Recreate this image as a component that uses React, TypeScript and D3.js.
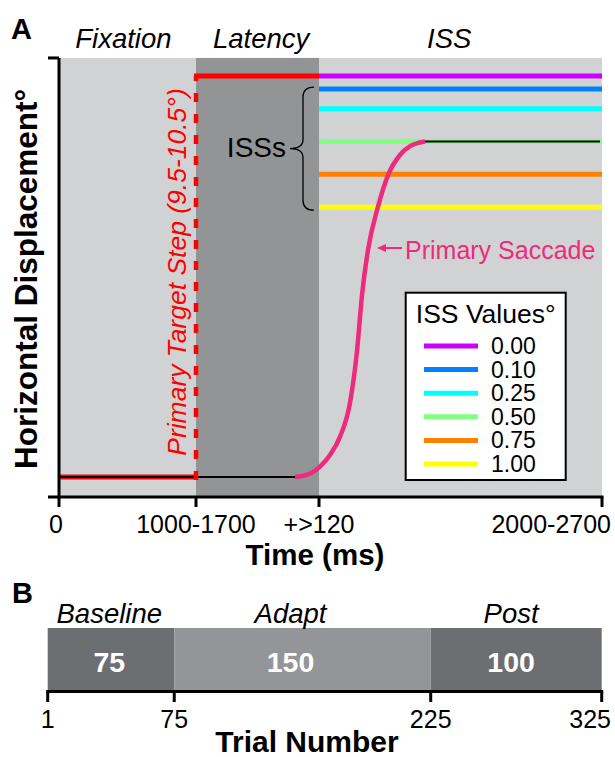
import React from 'react';
import * as d3 from 'd3';

// ---------- Panel A data ----------
const phaseNames = ['Fixation', 'Latency', 'ISS'];
const phaseStart = [0, 1, 2];
const phaseEnd = [1, 2, 3];
const phaseLabelAt = [0.47, 1.53, 2.46];
const phaseFill = ['#d1d2d4', '#939496', '#d1d2d4'];

const timeTicks = [0, 1, 2, 3];
const timeTickLabels = ['0', '1000-1700', '+>120', '2000-2700'];

const issValues = [0, 0.1, 0.25, 0.5, 0.75, 1.0];
const issLabels = ['0.00', '0.10', '0.25', '0.50', '0.75', '1.00'];
const issColors = ['#cc00ff', '#0080ff', '#00ffff', '#80ff80', '#ff8000', '#ffff00'];

const targetStep = 10; // degrees (schematic)
const issGain = 3.27; // schematic exaggeration of ISS
const adaptedIss = 0.5; // ISS of the illustrated trial

// primary saccade trace: phase-time and displacement (deg)
const saccadeT = [1.805, 1.886, 1.943, 2.0035, 2.039, 2.074, 2.11, 2.134, 2.152, 2.173, 2.208, 2.244, 2.286, 2.322, 2.35, 2.375];
const saccadeD = [0, 0.04, 0.11, 0.26, 0.55, 1.0, 1.87, 3.12, 4.54, 5.66, 6.73, 7.53, 8.03, 8.25, 8.33, 8.365];

// ---------- Panel B data ----------
const blockNames = ['Baseline', 'Adapt', 'Post'];
const blockStart = [1, 75, 225];
const blockEnd = [75, 225, 325];
const blockCounts = [75, 150, 100];
const blockLabelAt = [37, 143, 272];
const blockFill = ['#6d6e71', '#939598', '#6d6e71'];
const trialTicks = [1, 75, 225, 325];

const FONT = 'Liberation Sans, Arial, Helvetica, sans-serif';

export default function App() {
  const xA = d3.scaleLinear().domain([0, 1, 2, 3]).range([59, 196, 319, 602]);
  const yA = d3.scaleLinear().domain([0, 10]).range([477, 76]);
  const yMin = -0.5;
  const yMax = 10.45;
  const issD = (v: number) => targetStep - v * issGain;

  const xB = d3.scaleLinear().domain([1, 325]).range([47.7, 601.7]);
  const barTop = 628;
  const barBottom = 690;
  const axisB = 691.5;

  const line = d3
    .line<[number, number]>()
    .x((d) => xA(d[0]))
    .y((d) => yA(d[1]))
    .curve(d3.curveMonotoneX);
  const saccadePath = line(saccadeT.map((t, i) => [t, saccadeD[i]]) as [number, number][]) || '';

  const axisY = yA(yMin);
  const topY = yA(yMax);

  // curly brace for ISSs
  const bx = 314, bs = 303, btip = 290;
  const by0 = yA(issD(0.1)) - 2;
  const by1 = yA(issD(1.0)) + 3;
  const bym = (by0 + by1) / 2;
  const brace = `M${bx},${by0} Q${bs},${by0} ${bs},${by0 + 10} L${bs},${bym - 9} Q${bs},${bym} ${btip},${bym} Q${bs},${bym} ${bs},${bym + 9} L${bs},${by1 - 10} Q${bs},${by1} ${bx},${by1}`;

  const legendX = 405.7, legendY = 292.7, legendW = 160, legendH = 187.3;
  const nTicks = timeTicks.length;
  const nTrialTicks = trialTicks.length;

  return (
    <svg width={615} height={757} style={{ position: 'absolute', left: 0, top: 0, fontFamily: FONT }}>
      <rect x={0} y={0} width={615} height={757} fill="#ffffff" />
      {/* Panel A label */}
      <text x={11} y={39} fontSize={29} fontWeight="bold">A</text>

      {/* phase backgrounds */}
      {phaseNames.map((p, i) => (
        <rect key={p} x={xA(phaseStart[i])} y={topY} width={xA(phaseEnd[i]) - xA(phaseStart[i])} height={axisY - topY} fill={phaseFill[i]} />
      ))}
      {phaseNames.map((p, i) => (
        <text key={p + 'l'} x={xA(phaseLabelAt[i])} y={48} fontSize={27.5} fontStyle="italic" textAnchor="middle">{p}</text>
      ))}

      {/* baseline fixation: red target under black eye trace */}
      <line x1={xA(0)} x2={xA(1) + 2} y1={yA(0)} y2={yA(0)} stroke="#ff0000" strokeWidth={5} />
      <line x1={xA(0)} x2={xA(saccadeT[0])} y1={yA(0)} y2={yA(0)} stroke="#000" strokeWidth={2} />

      {/* target step */}
      <line x1={xA(1)} x2={xA(1)} y1={yA(0) + 3} y2={yA(targetStep)} stroke="#ff0000" strokeWidth={4.5} strokeDasharray="9,12" />
      <line x1={xA(1) - 2} x2={xA(2)} y1={yA(targetStep)} y2={yA(targetStep)} stroke="#ff0000" strokeWidth={5} />

      {/* ISS lines */}
      {issValues.map((v, i) => (
        <line key={v} x1={xA(2)} x2={xA(3)} y1={yA(issD(v))} y2={yA(issD(v))} stroke={issColors[i]} strokeWidth={5} />
      ))}

      {/* post-saccadic eye position */}
      <line x1={xA(saccadeT[saccadeT.length - 1])} x2={xA(3) - 2} y1={yA(issD(adaptedIss))} y2={yA(issD(adaptedIss))} stroke="#000" strokeWidth={2} />

      {/* primary saccade */}
      <path d={saccadePath} fill="none" stroke="#ee2a7b" strokeWidth={4.5} strokeLinecap="butt" />

      {/* ISSs brace */}
      <path d={brace} fill="none" stroke="#000" strokeWidth={1.3} />
      <text x={286} y={157} fontSize={28} textAnchor="end">ISSs</text>

      {/* target step label */}
      <text transform={`translate(186,272) rotate(-90)`} fontSize={26.5} fontStyle="italic" fill="#ff0000" textAnchor="middle">Primary Target Step (9.5-10.5°)</text>

      {/* primary saccade label */}
      <line x1={384} x2={402} y1={248} y2={248} stroke="#ee2a7b" strokeWidth={2} />
      <path d="M377,248 L386,244 L386,252 Z" fill="#ee2a7b" />
      <text x={405} y={259} fontSize={25} fill="#ee2a7b">Primary Saccade</text>

      {/* legend */}
      <rect x={legendX} y={legendY} width={legendW} height={legendH} fill="#fff" stroke="#000" strokeWidth={2} />
      <text x={legendX + legendW / 2} y={323} fontSize={26.5} textAnchor="middle">ISS Values°</text>
      {issValues.map((v, i) => (
        <g key={'lg' + v}>
          <line x1={424} x2={478} y1={346 + i * 23.6} y2={346 + i * 23.6} stroke={issColors[i]} strokeWidth={5} />
          <text x={491} y={346 + i * 23.6 + 8} fontSize={23}>{issLabels[i]}</text>
        </g>
      ))}

      {/* axes A */}
      <line x1={xA(0)} x2={xA(0)} y1={topY} y2={axisY + 1.5} stroke="#000" strokeWidth={3} />
      <line x1={48} x2={xA(0)} y1={topY} y2={topY} stroke="#000" strokeWidth={3} />
      <line x1={48} x2={xA(3) + 1.5} y1={axisY} y2={axisY} stroke="#000" strokeWidth={3} />
      {timeTicks.map((t, i) => (
        <g key={'tt' + t}>
          <line x1={xA(t)} x2={xA(t)} y1={axisY} y2={507} stroke="#000" strokeWidth={3} />
          <text x={i === nTicks - 1 ? xA(t) + 9 : xA(t) - (i === 0 ? 3 : 0)} y={533} fontSize={25} textAnchor={i === nTicks - 1 ? 'end' : 'middle'}>{timeTickLabels[i]}</text>
        </g>
      ))}
      <text x={315} y={565} fontSize={29.5} fontWeight="bold" textAnchor="middle">Time (ms)</text>
      <text transform={`translate(37,279) rotate(-90)`} fontSize={31.5} fontWeight="bold" textAnchor="middle">Horizontal Displacement°</text>

      {/* Panel B */}
      <text x={12} y={603} fontSize={29} fontWeight="bold">B</text>
      {blockNames.map((b, i) => (
        <g key={b}>
          <rect x={xB(blockStart[i])} y={barTop} width={xB(blockEnd[i]) - xB(blockStart[i])} height={barBottom - barTop} fill={blockFill[i]} />
          <text x={xB(blockLabelAt[i])} y={623} fontSize={27.5} fontStyle="italic" textAnchor="middle">{b}</text>
          <text x={xB(blockLabelAt[i])} y={672} fontSize={28.5} fontWeight="bold" fill="#fff" textAnchor="middle">{blockCounts[i]}</text>
        </g>
      ))}
      <line x1={xB(1) - 1.5} x2={xB(325) + 1.5} y1={axisB} y2={axisB} stroke="#000" strokeWidth={3} />
      {trialTicks.map((t, i) => (
        <g key={'bt' + t}>
          <line x1={xB(t)} x2={xB(t)} y1={axisB} y2={702} stroke="#000" strokeWidth={3} />
          <text x={i === nTrialTicks - 1 ? 611 : xB(t)} y={728} fontSize={25} textAnchor={i === nTrialTicks - 1 ? 'end' : 'middle'}>{t}</text>
        </g>
      ))}
      <text x={307} y={752} fontSize={30} fontWeight="bold" textAnchor="middle">Trial Number</text>
    </svg>
  );
}
